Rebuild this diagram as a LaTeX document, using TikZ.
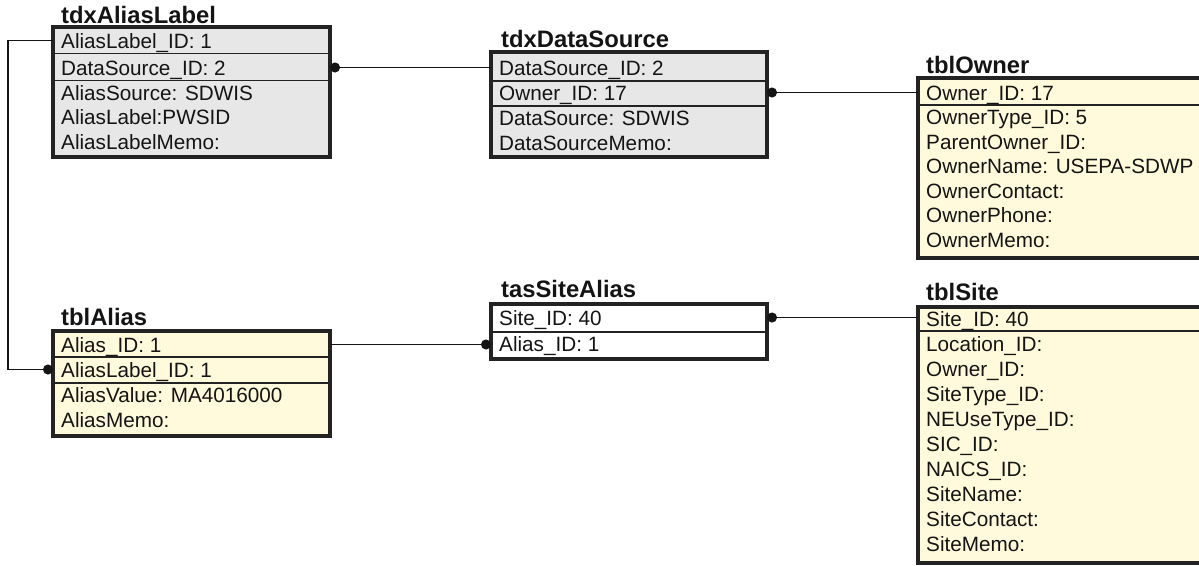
\documentclass[tikz,border=0pt]{standalone}
\usepackage{fontspec}
\setmainfont{Liberation Sans}
\usetikzlibrary{arrows.meta}
\definecolor{keygray}{RGB}{231,231,231}
\definecolor{cream}{RGB}{255,250,220}
\definecolor{edge}{RGB}{35,35,35}
\tikzset{
  tbox/.style={draw=edge, line width=3.2pt, inner sep=0pt, outer sep=0pt, anchor=north west},
  graybox/.style={tbox, fill=keygray},
  creambox/.style={tbox, fill=cream},
  title/.style={font=\bfseries\fontsize{23.8}{26}\selectfont, anchor=base west, inner sep=0pt, text=black!92},
  field/.style={font=\fontsize{20.7}{22}\selectfont, anchor=west, inner xsep=8pt, inner ysep=0pt,
                text height=15pt, text depth=0pt, text=black!92},
  rowsep/.style={draw=edge, line width=1.6pt},
  link/.style={line width=1.4pt, draw=black!92},
  dotstart/.style={link, {Circle[length=10pt,width=10pt]}-},
  dotend/.style={link, -{Circle[length=10pt,width=10pt]}},
}
\begin{document}
\begin{tikzpicture}[x=1pt, y=-1pt]
\useasboundingbox (0,0) rectangle (1199,565);
\fill[white] (0,0) rectangle (1199,565);

% ---------- tdxAliasLabel ----------
\node[title] (alT) at (61,23) {tdxAliasLabel};
\node[graybox, minimum width=277pt, minimum height=130pt] (al) at (53,27) {};
\draw[rowsep] (al.west |- 0,53.5) -- (al.east |- 0,53.5);
\draw[rowsep] (al.west |- 0,80.5) -- (al.east |- 0,80.5);
\node[field] (al1) at (53,40.5)  {AliasLabel\_ID: 1};
\node[field] (al2) at (53,67.5)  {DataSource\_ID: 2};
\node[field] (al3) at (53,92.5)  {AliasSource: SDWIS};
\node[field] (al4) at (53,116.5) {AliasLabel:PWSID};
\node[field] (al5) at (53,141.5) {AliasLabelMemo:};

% ---------- tdxDataSource ----------
\node[title] (dsT) at (501,47) {tdxDataSource};
\node[graybox, minimum width=276pt, minimum height=105pt] (ds) at (491,52) {};
\draw[rowsep] (ds.west |- 0,81) -- (ds.east |- 0,81);
\draw[rowsep] (ds.west |- 0,106) -- (ds.east |- 0,106);
\node[field] (ds1) at (491,67.5)  {DataSource\_ID: 2};
\node[field] (ds2) at (491,92.5)  {Owner\_ID: 17};
\node[field] (ds3) at (491,117.5) {DataSource: SDWIS};
\node[field] (ds4) at (491,142.5) {DataSourceMemo:};

% ---------- tblOwner ----------
\node[title] (owT) at (926,73) {tblOwner};
\node[creambox, minimum width=300pt, minimum height=180pt] (ow) at (918,78) {};
\draw[rowsep] (ow.west |- 0,105) -- (ow.east |- 0,105);
\node[field] (ow1) at (918,92.5)  {Owner\_ID: 17};
\node[field] (ow2) at (918,117)   {OwnerType\_ID: 5};
\node[field] (ow3) at (918,141.5) {ParentOwner\_ID:};
\node[field] (ow4) at (918,166)   {OwnerName: USEPA-SDWP};
\node[field] (ow5) at (918,190.5) {OwnerContact:};
\node[field] (ow6) at (918,215)   {OwnerPhone:};
\node[field] (ow7) at (918,239.5) {OwnerMemo:};

% ---------- tblAlias ----------
\node[title] (talT) at (61,325) {tblAlias};
\node[creambox, minimum width=277pt, minimum height=105pt] (tal) at (53,331) {};
\draw[rowsep] (tal.west |- 0,357) -- (tal.east |- 0,357);
\draw[rowsep] (tal.west |- 0,383) -- (tal.east |- 0,383);
\node[field] (tal1) at (53,344.5) {Alias\_ID: 1};
\node[field] (tal2) at (53,369.5) {AliasLabel\_ID: 1};
\node[field] (tal3) at (53,394.5) {AliasValue: MA4016000};
\node[field] (tal4) at (53,419.5) {AliasMemo:};

% ---------- tasSiteAlias ----------
\node[title] (saT) at (501,297) {tasSiteAlias};
\node[tbox, fill=white, minimum width=276pt, minimum height=55pt] (sa) at (491,304) {};
\draw[rowsep] (sa.west |- 0,332) -- (sa.east |- 0,332);
\node[field] (sa1) at (491,317.5) {Site\_ID: 40};
\node[field] (sa2) at (491,343.5) {Alias\_ID: 1};

% ---------- tblSite ----------
\node[title] (stT) at (926,300) {tblSite};
\node[creambox, minimum width=300pt, minimum height=256pt] (st) at (918,307) {};
\draw[rowsep] (st.west |- 0,331) -- (st.east |- 0,331);
\node[field] (st1)  at (918,318.5) {Site\_ID: 40};
\node[field] (st2)  at (918,343.6) {Location\_ID:};
\node[field] (st3)  at (918,368.7) {Owner\_ID:};
\node[field] (st4)  at (918,393.8) {SiteType\_ID:};
\node[field] (st5)  at (918,418.9) {NEUseType\_ID:};
\node[field] (st6)  at (918,444.0) {SIC\_ID:};
\node[field] (st7)  at (918,469.1) {NAICS\_ID:};
\node[field] (st8)  at (918,494.2) {SiteName:};
\node[field] (st9)  at (918,519.3) {SiteContact:};
\node[field] (st10) at (918,544.4) {SiteMemo:};

% ---------- relationships ----------
\coordinate (bus) at (8,0);
\draw[dotend]   (al.west |- al1) -- (bus |- al1) -- (bus |- tal2) -- (tal.west |- tal2);
\draw[dotstart] (al.east |- al2) -- (ds.west |- al2);
\draw[dotstart] (ds.east |- ds2) -- (ow.west |- ds2);
\draw[dotend]   (tal.east |- tal1) -- (sa.west |- tal1);
\draw[dotstart] (sa.east |- sa1) -- (st.west |- sa1);
\end{tikzpicture}
\end{document}
